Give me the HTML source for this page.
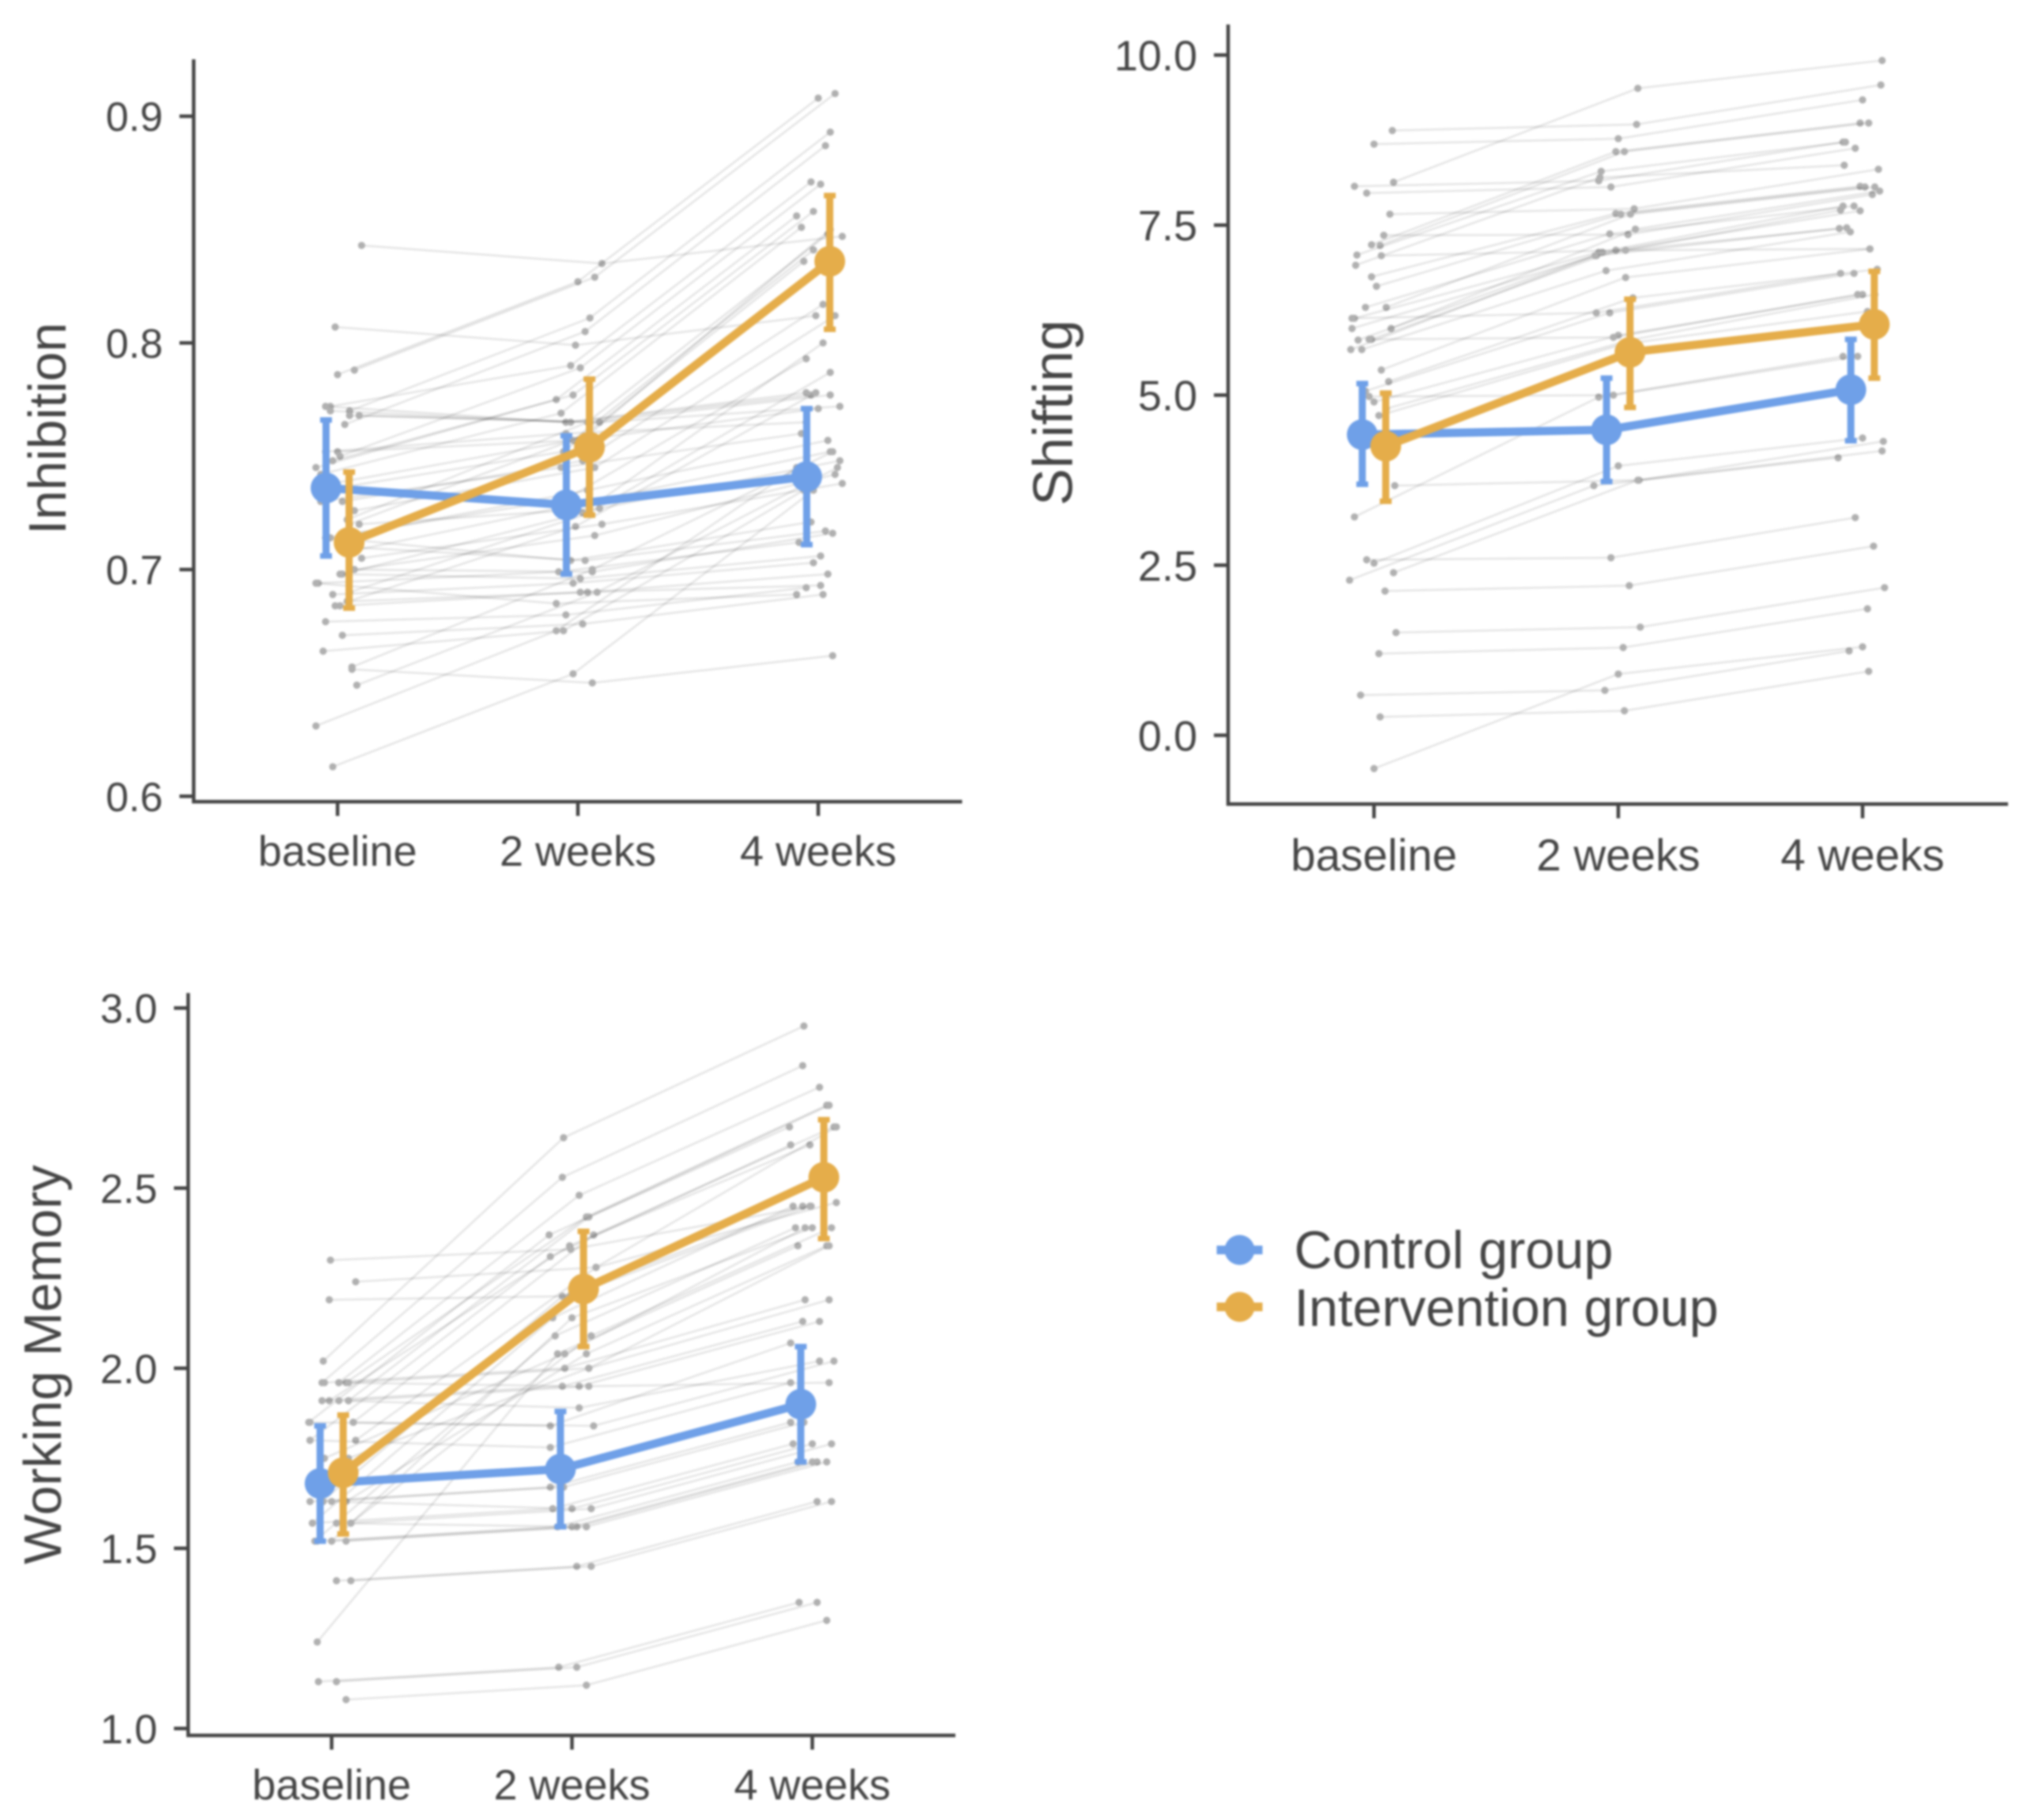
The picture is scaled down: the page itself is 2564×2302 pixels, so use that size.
<!DOCTYPE html>
<html lang="en">
<head>
<meta charset="utf-8">
<title>Inhibition, Shifting and Working Memory by group</title>
<style>
  html, body { margin: 0; padding: 0; background: #fff; }
  #figure { display: block; filter: blur(1.3px); }
  text { font-family: "Liberation Sans", Arial, sans-serif; fill: #454545; }
</style>
</head>
<body>
<svg id="figure" xmlns="http://www.w3.org/2000/svg" width="2564" height="2302" viewBox="0 0 2564 2302">
  <rect x="-10" y="-10" width="2584" height="2322" fill="#ffffff"/>
  <g>
    <g>
      <line x1="1539" y1="1581" x2="1597" y2="1581" stroke="#6fa0e8" stroke-width="11"/>
      <circle cx="1568" cy="1581" r="19" fill="#6fa0e8"/>
      <text x="1637" y="1604" font-size="66.6">Control group</text>
    </g>
    <g>
      <line x1="1539" y1="1653" x2="1597" y2="1653" stroke="#e5ad4a" stroke-width="11"/>
      <circle cx="1568" cy="1653" r="19" fill="#e5ad4a"/>
      <text x="1637" y="1677" font-size="66.6">Intervention group</text>
    </g>
  </g>
</svg>
<script>
// ---------- shared categories ----------
const categories = ["baseline", "2 weeks", "4 weeks"];

// ---------- Inhibition ----------
const inhibitionTicks = ["0.6", "0.7", "0.8", "0.9"];
const inhibitionControlMean = [0.736, 0.7285, 0.741];
const inhibitionControlLow = [0.706, 0.698, 0.711];
const inhibitionControlHigh = [0.766, 0.759, 0.771];
const inhibitionInterventionMean = [0.712, 0.754, 0.836];
const inhibitionInterventionLow = [0.683, 0.724, 0.806];
const inhibitionInterventionHigh = [0.743, 0.784, 0.865];
const inhibitionSubjectJitter = [0.10,-0.01,0.00,0.07,0.05,0.03,-0.03,0.01,-0.09,-0.02,-0.07,-0.05,-0.03,0.05,0.09,0.00,-0.02,-0.06,0.02,0.07,0.04,0.05,-0.05,0.02,0.05,-0.01,-0.03,0.03,0.06,-0.08,0.01,-0.02,0.04,0.01,-0.09,-0.05,0.02,-0.06,0.06,0.06,0.08,-0.09,-0.02,0.04,0.05,0.09,0.10,0.07,-0.07,-0.05];
const inhibitionBaseline = [0.843,0.807,0.786,0.788,0.770,0.764,0.772,0.750,0.745,0.748,0.742,0.772,0.770,0.768,0.768,0.752,0.738,0.735,0.730,0.726,0.722,0.720,0.714,0.698,0.690,0.684,0.714,0.710,0.700,0.694,0.698,0.689,0.686,0.684,0.694,0.677,0.671,0.664,0.657,0.656,0.649,0.631,0.613,0.715,0.708,0.720,0.705,0.700,0.730,0.752];
const inhibitionWeek2 = [0.835,0.799,0.827,0.829,0.811,0.805,0.790,0.789,0.775,0.777,0.769,0.765,0.765,0.765,0.765,0.757,0.757,0.752,0.748,0.745,0.765,0.760,0.731,0.725,0.725,0.719,0.704,0.704,0.699,0.699,0.696,0.694,0.690,0.690,0.685,0.680,0.676,0.673,0.700,0.650,0.690,0.673,0.654,0.735,0.730,0.727,0.720,0.715,0.745,0.760];
const inhibitionWeek4 = [0.847,0.812,0.908,0.910,0.893,0.887,0.871,0.870,0.856,0.858,0.851,0.778,0.777,0.777,0.772,0.771,0.841,0.836,0.817,0.812,0.848,0.850,0.793,0.800,0.787,0.778,0.721,0.717,0.716,0.712,0.706,0.703,0.698,0.693,0.689,0.692,0.689,0.735,0.752,0.662,0.745,0.745,0.735,0.757,0.752,0.748,0.738,0.742,0.760,0.765];

// ---------- Shifting ----------
const shiftingTicks = ["0.0", "2.5", "5.0", "7.5", "10.0"];
const shiftingControlMean = [4.42, 4.49, 5.08];
const shiftingControlLow = [3.69, 3.73, 4.33];
const shiftingControlHigh = [5.17, 5.25, 5.82];
const shiftingInterventionMean = [4.25, 5.63, 6.04];
const shiftingInterventionLow = [3.44, 4.82, 5.25];
const shiftingInterventionHigh = [5.03, 6.41, 6.82];
const shiftingSubjectJitter = [0.075,0.00,0.08,-0.08,-0.03,0.065,-0.01,0.025,-0.07,-0.075,0.04,-0.01,0.01,-0.035,0.05,-0.08,-0.09,0.07,-0.01,-0.065,-0.095,-0.05,0.03,0.06,-0.035,0.00,0.05,0.02,0.085,-0.08,0.00,-0.10,0.08,0.045,-0.03,0.09,0.02,-0.055,0.025,0.00,-0.02,-0.02,-0.09,0.03];
const shiftingBaseline = [8.89,8.69,8.13,8.07,7.97,7.66,7.21,7.20,7.06,6.91,7.35,6.74,6.60,6.29,6.29,6.13,5.98,5.98,5.82,5.81,5.67,5.67,5.37,5.20,5.06,4.90,4.80,4.70,3.67,3.21,2.53,2.28,2.39,2.12,2.58,1.51,1.20,0.59,0.27,-0.49,4.98,5.82,6.13,7.05];
const shiftingWeek2 = [8.98,8.77,9.51,8.15,8.06,7.74,8.58,8.58,8.29,8.20,7.36,7.67,7.66,7.37,7.66,7.10,7.05,7.44,7.13,7.10,7.05,6.83,6.73,6.43,6.21,5.88,5.81,5.75,3.75,4.97,3.96,3.67,3.75,2.20,2.61,1.59,1.29,0.66,0.36,0.90,5.00,5.85,6.21,7.13];
const shiftingWeek4 = [9.56,9.34,9.92,8.72,8.63,8.32,9.00,9.00,8.72,8.38,7.95,8.07,8.06,7.78,8.06,7.78,7.72,8.00,7.71,7.46,7.45,7.40,7.15,6.85,6.79,6.48,6.48,6.23,4.32,5.57,4.37,4.08,4.18,2.78,3.20,2.17,1.86,1.24,0.94,1.30,5.57,6.48,6.79,7.15];

// ---------- Working Memory ----------
const memoryTicks = ["1.0", "1.5", "2.0", "2.5", "3.0"];
const memoryControlMean = [1.68, 1.72, 1.90];
const memoryControlLow = [1.52, 1.56, 1.74];
const memoryControlHigh = [1.84, 1.88, 2.06];
const memoryInterventionMean = [1.71, 2.22, 2.53];
const memoryInterventionLow = [1.54, 2.06, 2.36];
const memoryInterventionHigh = [1.87, 2.38, 2.69];
const memorySubjectJitter = [-0.035,-0.04,0.03,0.06,0.07,-0.095,0.09,-0.01,-0.09,0.10,-0.04,-0.08,0.00,-0.07,-0.06,0.08,0.06,0.07,-0.03,-0.005,0.10,-0.01,-0.03,0.03,0.07,-0.04,0.03,0.07,-0.09,0.09,-0.09,-0.09,-0.035,0.00,-0.08,0.02,0.08,-0.06,0.00,0.06,0.02,0.08,-0.055,0.02,0.06];
const memoryBaseline = [2.02,1.96,1.96,1.96,1.91,1.85,1.85,1.91,1.80,1.80,1.63,1.57,1.52,1.52,1.24,1.57,1.63,1.75,1.75,2.30,2.24,2.19,1.96,1.96,1.96,1.91,1.91,1.91,1.85,1.85,1.80,1.63,1.63,1.63,1.57,1.57,1.57,1.52,1.52,1.52,1.41,1.41,1.13,1.13,1.08];
const memoryWeek2 = [2.64,2.53,2.48,2.42,2.42,2.37,2.37,2.34,2.31,2.28,2.20,2.14,2.14,2.09,2.04,2.09,2.04,2.00,2.04,2.33,2.28,2.20,2.00,1.95,2.00,1.95,1.89,1.95,1.84,1.84,1.78,1.67,1.67,1.61,1.61,1.56,1.61,1.56,1.56,1.56,1.45,1.45,1.17,1.17,1.12];
const memoryWeek4 = [2.95,2.84,2.78,2.73,2.73,2.67,2.67,2.62,2.62,2.46,2.45,2.45,2.39,2.39,2.34,2.39,2.34,2.34,2.39,2.45,2.67,2.45,2.19,2.13,2.19,2.13,2.02,1.96,2.07,2.02,1.96,1.85,1.85,1.79,1.79,1.74,1.79,1.74,1.74,1.74,1.63,1.63,1.35,1.35,1.30];

// ---------- layout (pixels) ----------
const NS = "http://www.w3.org/2000/svg";
const figure = document.getElementById("figure");
const CONTROL = "#6fa0e8";
const INTERVENTION = "#e5ad4a";
const DODGE = 0.048;

function mk(parent, tag, attrs) {
  const el = document.createElementNS(NS, tag);
  for (const k in attrs) el.setAttribute(k, attrs[k]);
  parent.appendChild(el);
  return el;
}

function drawGroup(panel, cfg, key, color, mean, low, high, offset, xAt, yAt) {
  const g = mk(panel, "g", {});
  
  
  const pts = mean.map((v, i) => xAt(i + offset) + "," + yAt(v)).join(" ");
  const line = mk(g, "polyline", { points: pts, fill: "none", stroke: color, "stroke-width": 10.5, "stroke-linejoin": "round" });
  
  
  mean.forEach((v, i) => {
    const x = xAt(i + offset);
    const bar = mk(g, "line", { x1: x, x2: x, y1: yAt(low[i]), y2: yAt(high[i]), stroke: color, "stroke-width": 9 });
    
    
    const capHigh = mk(g, "line", { x1: x - 7.5, x2: x + 7.5, y1: yAt(high[i]), y2: yAt(high[i]), stroke: color, "stroke-width": 7 });
    
    
    const capLow = mk(g, "line", { x1: x - 7.5, x2: x + 7.5, y1: yAt(low[i]), y2: yAt(low[i]), stroke: color, "stroke-width": 7 });
    
    
    const dot = mk(g, "circle", { cx: x, cy: yAt(v), r: 19.5, fill: color });
    
    
  });
}

function drawPanel(cfg) {
  const xAt = c => cfg.xFirst + c * cfg.xStep;
  const yAt = v => cfg.yRef + (cfg.refValue - v) * cfg.yPerUnit;

  const panel = mk(figure, "g", {});
  
  

  // subject trajectories
  const subjects = mk(panel, "g", {});
  
  
  cfg.b.forEach((_, s) => {
    const vals = [cfg.b[s], cfg.w2[s], cfg.w4[s]];
    const j = cfg.jitter[s];
    const line = mk(subjects, "polyline", {
      points: vals.map((v, i) => xAt(i + j) + "," + yAt(v)).join(" "),
      fill: "none", stroke: "#000", "stroke-opacity": 0.1, "stroke-width": 2.6
    });
    
    
    vals.forEach((v, i) => {
      const dot = mk(subjects, "circle", { cx: xAt(i + j), cy: yAt(v), r: 4.6, fill: "#b0b0b0" });
      
      
    });
  });

  // group means
  drawGroup(panel, cfg, "control", CONTROL, cfg.cm, cfg.cl, cfg.ch, -DODGE, xAt, yAt);
  drawGroup(panel, cfg, "intervention", INTERVENTION, cfg.im, cfg.il, cfg.ih, DODGE, xAt, yAt);

  // axes
  const yAxis = mk(panel, "line", { x1: cfg.axisX, x2: cfg.axisX, y1: cfg.axisTop, y2: cfg.axisY + 2, stroke: "#444", "stroke-width": 4.5 });
  
  
  const xAxis = mk(panel, "line", { x1: cfg.axisX - 2, x2: cfg.axisRight, y1: cfg.axisY, y2: cfg.axisY, stroke: "#444", "stroke-width": 4.5 });
  
  

  cfg.ticks.forEach(label => {
    const y = yAt(parseFloat(label));
    const tick = mk(panel, "line", { x1: cfg.axisX - 18, x2: cfg.axisX, y1: y, y2: y, stroke: "#444", "stroke-width": 4.5 });
    
    
    const t = mk(panel, "text", { x: cfg.axisX - 39, y: y + cfg.tickSize * 0.36, "font-size": cfg.tickSize, "text-anchor": "end" });
    t.textContent = label;
    
    
  });

  categories.forEach((label, i) => {
    const x = xAt(i);
    const tick = mk(panel, "line", { x1: x, x2: x, y1: cfg.axisY, y2: cfg.axisY + 18, stroke: "#444", "stroke-width": 4.5 });
    
    
    const t = mk(panel, "text", { x: x, y: cfg.xLabelY, "font-size": cfg.xSize, "text-anchor": "middle" });
    t.textContent = label;
    
    
  });

  const title = mk(panel, "text", {
    x: 0, y: 0, "font-size": cfg.titleSize, "text-anchor": "middle",
    transform: "translate(" + cfg.titleX + "," + cfg.titleY + ") rotate(-90)"
  });
  title.textContent = cfg.title;
  
  
}

drawPanel({
  id: "inhibition", title: "Inhibition", ticks: inhibitionTicks,
  b: inhibitionBaseline, w2: inhibitionWeek2, w4: inhibitionWeek4, jitter: inhibitionSubjectJitter,
  cm: inhibitionControlMean, cl: inhibitionControlLow, ch: inhibitionControlHigh,
  im: inhibitionInterventionMean, il: inhibitionInterventionLow, ih: inhibitionInterventionHigh,
  xFirst: 427, xStep: 304, refValue: 0.9, yRef: 147, yPerUnit: 2867,
  axisX: 245, axisTop: 75, axisY: 1014, axisRight: 1217,
  tickSize: 52, xSize: 54, xLabelY: 1095, titleSize: 67, titleX: 83, titleY: 542
});

drawPanel({
  id: "shifting", title: "Shifting", ticks: shiftingTicks,
  b: shiftingBaseline, w2: shiftingWeek2, w4: shiftingWeek4, jitter: shiftingSubjectJitter,
  cm: shiftingControlMean, cl: shiftingControlLow, ch: shiftingControlHigh,
  im: shiftingInterventionMean, il: shiftingInterventionLow, ih: shiftingInterventionHigh,
  xFirst: 1738, xStep: 309, refValue: 10, yRef: 69.6, yPerUnit: 86.04,
  axisX: 1553.5, axisTop: 31, axisY: 1017, axisRight: 2540,
  tickSize: 54, xSize: 56.5, xLabelY: 1101, titleSize: 70.5, titleX: 1356, titleY: 522
});

drawPanel({
  id: "working-memory", title: "Working Memory", ticks: memoryTicks,
  b: memoryBaseline, w2: memoryWeek2, w4: memoryWeek4, jitter: memorySubjectJitter,
  cm: memoryControlMean, cl: memoryControlLow, ch: memoryControlHigh,
  im: memoryInterventionMean, il: memoryInterventionLow, ih: memoryInterventionHigh,
  xFirst: 419.5, xStep: 304, refValue: 3, yRef: 1275, yPerUnit: 455.6,
  axisX: 238, axisTop: 1256, axisY: 2195, axisRight: 1208.5,
  tickSize: 52, xSize: 54, xLabelY: 2276, titleSize: 67, titleX: 77, titleY: 1726
});
</script>
</body>
</html>
